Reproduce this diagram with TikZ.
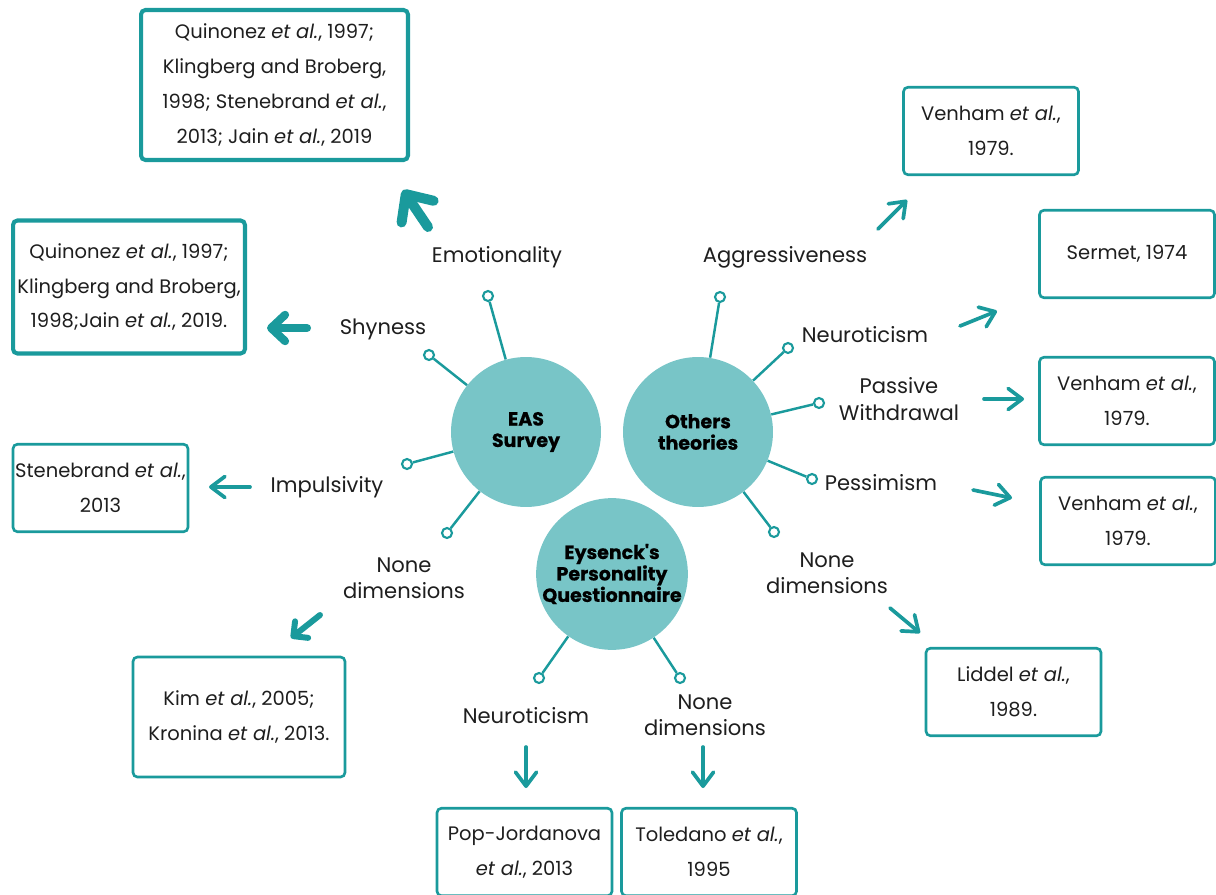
\documentclass[tikz,border=0pt]{standalone}
\usepackage{fontspec}
\setmainfont{Poppins}
\newfontfamily\hubfont{Poppins}[Ligatures=TeXOff, BoldFeatures={FakeBold=0.6}]
\usetikzlibrary{arrows.meta}

\definecolor{tealline}{HTML}{1A9A9C}
\definecolor{hubfill}{HTML}{78C5C7}
\definecolor{ink}{HTML}{1E1E1E}

\tikzset{
  hub/.style={circle, fill=hubfill, minimum size=3cm, inner sep=0pt, align=center,
    font=\hubfont\bfseries\fontsize{10.8}{12.2}\selectfont, text=black},
  pin/.style={circle, draw=tealline, fill=white, line width=1.2pt,
    minimum size=0.2cm, inner sep=0pt},
  spoke/.style={draw=tealline, line width=1.4pt},
  lbl/.style={font=\fontsize{12}{15}\selectfont, text=ink, align=center, inner sep=0pt},
  refbox/.style={draw=tealline, line width=1.5pt, rounded corners=2.5pt, align=center,
    font=\fontsize{11.1}{19.8}\selectfont, text=ink, inner sep=0pt,
    minimum width=3.5cm, minimum height=1.75cm},
  refthick/.style={refbox, line width=2.3pt},
  arr/.style={draw=tealline, line width=2.1pt, line cap=round,
    -{Straight Barb[length=8pt,width=12pt,round]}},
  arrmid/.style={draw=tealline, line width=3.4pt, line cap=round,
    -{Straight Barb[length=6pt,width=12pt,round]}},
  arrbig/.style={draw=tealline, line width=4.6pt, line cap=round,
    -{Straight Barb[length=8pt,width=15pt,round]}},
  arrhuge/.style={draw=tealline, line width=5.7pt, line cap=round,
    -{Straight Barb[length=12pt,width=22pt,round]}},
}

\begin{document}
\begin{tikzpicture}[x=0.02cm, y=-0.02cm]
\useasboundingbox (0,0) rectangle (1216,895);

% hubs
\node[hub] (eas) at (526,432) {EAS\\Survey};
\node[hub] (oth) at (698,432) {Others\\theories};
\node[hub] (eys) at (612,574) {Eysenck's\\Personality\\Questionnaire};

% pins
\node[pin] (pEmo)  at (488,296) {};
\node[pin] (pShy)  at (429,355) {};
\node[pin] (pImp)  at (407,464) {};
\node[pin] (pNoE)  at (447,533) {};
\node[pin] (pAgg)  at (720,297) {};
\node[pin] (pNeuO) at (788,348) {};
\node[pin] (pPas)  at (819,403) {};
\node[pin] (pPes)  at (812,479) {};
\node[pin] (pNoO)  at (774,532) {};
\node[pin] (pNeuY) at (539,678) {};
\node[pin] (pNoY)  at (680,678) {};

% spokes
\foreach \p in {pEmo,pShy,pImp,pNoE} \draw[spoke] (eas) -- (\p);
\foreach \p in {pAgg,pNeuO,pPas,pPes,pNoO} \draw[spoke] (oth) -- (\p);
\foreach \p in {pNeuY,pNoY} \draw[spoke] (eys) -- (\p);

% dimension labels
\node[lbl] (lEmo)  at (497,257) {Emotionality};
\node[lbl] (lShy)  at (383,329) {Shyness};
\node[lbl] (lImp)  at (327,487) {Impulsivity};
\node[lbl] (lNoE)  at (404,578) {None\\dimensions};
\node[lbl] (lAgg)  at (785,257) {Aggressiveness};
\node[lbl] (lNeuO) at (865,335) {Neuroticism};
\node[lbl] (lPas)  at (899,399) {Passive\\Withdrawal};
\node[lbl] (lPes)  at (881,483) {Pessimism};
\node[lbl] (lNoO)  at (827,573) {None\\dimensions};
\node[lbl] (lNeuY) at (526,716) {Neuroticism};
\node[lbl] (lNoY)  at (705,715) {None\\dimensions};

% reference boxes
\node[refthick, minimum width=5.34cm, minimum height=3cm] (rEmo) at (274.5,85)
  {Quinonez \textit{et al.}, 1997;\\Klingberg and Broberg,\\1998; Stenebrand \textit{et al.},\\2013; Jain \textit{et al.}, 2019};
\node[refthick, minimum width=4.64cm, minimum height=2.66cm] (rShy) at (129,287)
  {Quinonez \textit{et al.}, 1997;\\Klingberg and Broberg,\\1998;Jain \textit{et al.}, 2019.};
\node[refbox] (rImp) at (100.5,488) {Stenebrand \textit{et al.},\\2013};
\node[refbox, minimum width=4.24cm, minimum height=2.4cm] (rNoE) at (239,717)
  {Kim \textit{et al.}, 2005;\\Kronina \textit{et al.}, 2013.};
\node[refbox] (rNeuY) at (524.5,852) {Pop-Jordanova\\\textit{et al.}, 2013};
\node[refbox] (rNoY) at (709,852) {Toledano \textit{et al.},\\1995};
\node[refbox] (rAgg) at (991,131) {Venham \textit{et al.},\\1979.};
\node[refbox] (rNeuO) at (1127,254) {Sermet, 1974};
\node[refbox] (rPas) at (1127,401) {Venham \textit{et al.},\\1979.};
\node[refbox] (rPes) at (1128,521) {Venham \textit{et al.},\\1979.};
\node[refbox] (rNoO) at (1013.5,692) {Liddel \textit{et al.},\\1989.};

% arrow end points
\coordinate (aEmo0) at (428,227);  \coordinate (aEmo1) at (403,190);
\coordinate (aShy0) at (307,328);  \coordinate (aShy1) at (267,328);
\coordinate (aImp0) at (250,487);  \coordinate (aImp1) at (209,487);
\coordinate (aNoE0) at (320,615);  \coordinate (aNoE1) at (291,638);
\coordinate (aAgg0) at (878,229);  \coordinate (aAgg1) at (907,200);
\coordinate (aNeuO0) at (960,326); \coordinate (aNeuO1) at (997,311);
\coordinate (aPas0) at (984,399);  \coordinate (aPas1) at (1024,399);
\coordinate (aPes0) at (973,490);  \coordinate (aPes1) at (1012,498);
\coordinate (aNoO0) at (890,608);  \coordinate (aNoO1) at (920,633);
\coordinate (aNeuY0) at (526,747); \coordinate (aNeuY1) at (526,788);
\coordinate (aNoY0) at (703,747);  \coordinate (aNoY1) at (703,788);

% arrows towards the references
\draw[arrhuge] (aEmo0) -- (aEmo1);
\draw[arrbig] (aShy0) -- (aShy1);
\draw[arr] (aImp0) -- (aImp1);
\draw[arrmid] (aNoE0) -- (aNoE1);
\draw[arr] (aAgg0) -- (aAgg1);
\draw[arr] (aNeuO0) -- (aNeuO1);
\draw[arr] (aPas0) -- (aPas1);
\draw[arr] (aPes0) -- (aPes1);
\draw[arr] (aNoO0) -- (aNoO1);
\draw[arr] (aNeuY0) -- (aNeuY1);
\draw[arr] (aNoY0) -- (aNoY1);
\end{tikzpicture}
\end{document}
